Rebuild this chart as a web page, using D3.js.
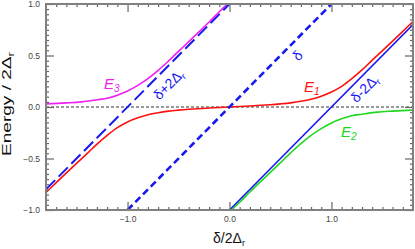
<!DOCTYPE html>
<html>
<head>
<meta charset="utf-8">
<script src="https://cdn.jsdelivr.net/npm/d3@7"></script>
<style>
  body { margin: 0; background: #fff; }
  svg { display: block; font-family: 'Liberation Sans', Arial, sans-serif; }
</style>
</head>
<body>
<svg id="chart"></svg>
<script>
// energy levels (x = delta / 2 Delta_r, y = energy / 2 Delta_r)
const e3Points = [
    [-1.8, 0.03], [-1.6, 0.04], [-1.45, 0.05], [-1.3, 0.07], [-1.2, 0.085],
    [-1.1, 0.115], [-1.0, 0.155], [-0.9, 0.21], [-0.8, 0.275], [-0.7, 0.355],
    [-0.6, 0.445], [-0.5, 0.54], [-0.4, 0.635], [-0.3, 0.73], [-0.2, 0.825],
    [-0.1, 0.925], [0.0, 1.02]
];
const e1Points = [
    [-1.8, -0.83], [-1.6, -0.64], [-1.4, -0.455], [-1.3, -0.36], [-1.2, -0.275],
    [-1.1, -0.2], [-1.0, -0.145], [-0.9, -0.105], [-0.8, -0.075], [-0.7, -0.055],
    [-0.6, -0.04], [-0.5, -0.03], [-0.4, -0.022], [-0.2, -0.01], [0.0, 0.0],
    [0.2, 0.01], [0.4, 0.022], [0.5, 0.03], [0.6, 0.04], [0.7, 0.055],
    [0.8, 0.075], [0.9, 0.105], [1.0, 0.145], [1.1, 0.2], [1.2, 0.275],
    [1.3, 0.36], [1.4, 0.455], [1.6, 0.64], [1.8, 0.83]
];
const e2Points = [
    [0.0, -1.02], [0.1, -0.925], [0.2, -0.825], [0.3, -0.73], [0.4, -0.635],
    [0.5, -0.54], [0.6, -0.445], [0.7, -0.355], [0.8, -0.275], [0.9, -0.21],
    [1.0, -0.155], [1.1, -0.115], [1.2, -0.085], [1.3, -0.07], [1.45, -0.05],
    [1.6, -0.04], [1.8, -0.03]
];
// bare levels
const deltaLine = [[-1, -1], [1, 1]];
const deltaPlusLine = [[-1.8, -0.8], [0, 1]];
const deltaMinusLine = [[0, -1], [1.8, 0.8]];
const zeroLine = [[-1.8, 0], [1.8, 0]];

const xMajor = [-1, 0, 1];
const xMinor = d3.range(-17, 18).map(i => i / 10).filter(v => !xMajor.includes(v));
const yMajor = [-1, -0.5, 0, 0.5, 1];
const yMinor = d3.range(-20, 21).map(i => i / 20).filter(v => !yMajor.includes(v));

const width = 415, height = 249;
const margin = { top: 4, right: 2, bottom: 39, left: 46 };
const plotW = width - margin.left - margin.right;
const plotH = height - margin.top - margin.bottom;

const svg = d3.select('#chart').attr('width', width).attr('height', height);
const xScale = d3.scaleLinear().domain([-1.8, 1.8]).range([0, plotW]);
const yScale = d3.scaleLinear().domain([-1, 1]).range([plotH, 0]);

const g = svg.append('g').attr('transform', `translate(${margin.left}, ${margin.top})`);
g.append('clipPath').attr('id', 'clip')
    .append('rect').attr('width', plotW).attr('height', plotH);

const plot = g.append('g').attr('clip-path', 'url(#clip)');
const line = d3.line().x(d => xScale(d[0])).y(d => yScale(d[1]));
const curve = d3.line().x(d => xScale(d[0])).y(d => yScale(d[1])).curve(d3.curveCatmullRom);

plot.append('path').datum(zeroLine).attr('d', line)
    .attr('fill', 'none').attr('stroke', '#000').attr('stroke-width', 0.8)
    .attr('stroke-dasharray', '3,2');

plot.append('path').datum(e3Points).attr('d', curve)
    .attr('fill', 'none').attr('stroke', '#f020f0').attr('stroke-width', 1.6);
plot.append('path').datum(e1Points).attr('d', curve)
    .attr('fill', 'none').attr('stroke', '#ff1010').attr('stroke-width', 1.6);
plot.append('path').datum(e2Points).attr('d', curve)
    .attr('fill', 'none').attr('stroke', '#20d820').attr('stroke-width', 1.6);

plot.append('path').datum(deltaLine).attr('d', line)
    .attr('fill', 'none').attr('stroke', '#1818f0').attr('stroke-width', 2.6)
    .attr('stroke-dasharray', '7,4');
plot.append('path').datum(deltaPlusLine).attr('d', line)
    .attr('fill', 'none').attr('stroke', '#1818f0').attr('stroke-width', 2)
    .attr('stroke-dasharray', '13,5');
plot.append('path').datum(deltaMinusLine).attr('d', line)
    .attr('fill', 'none').attr('stroke', '#1818f0').attr('stroke-width', 1.5);

// frame with inward ticks on all sides
const tickColor = '#666';
function styleAxis(sel) {
    sel.select('.domain').remove();
    sel.selectAll('.tick line').attr('stroke', tickColor).attr('stroke-width', 1.2);
    sel.selectAll('.tick text').attr('fill', '#444').attr('font-size', 8.5)
        .attr('font-family', "'Liberation Sans', Arial, sans-serif");
}
g.append('g').attr('transform', `translate(0, ${plotH})`)
    .call(d3.axisBottom(xScale).tickValues(xMajor).tickSizeInner(-8).tickPadding(6).tickFormat(d3.format('.1f')))
    .call(styleAxis);
g.append('g').attr('transform', `translate(0, ${plotH})`)
    .call(d3.axisBottom(xScale).tickValues(xMinor).tickSizeInner(-3).tickFormat(''))
    .call(styleAxis);
g.append('g')
    .call(d3.axisTop(xScale).tickValues(xMajor).tickSizeInner(-8).tickFormat(''))
    .call(styleAxis);
g.append('g')
    .call(d3.axisTop(xScale).tickValues(xMinor).tickSizeInner(-3).tickFormat(''))
    .call(styleAxis);
g.append('g')
    .call(d3.axisLeft(yScale).tickValues(yMajor).tickSizeInner(-8).tickPadding(6).tickFormat(d3.format('.1f')))
    .call(styleAxis);
g.append('g')
    .call(d3.axisLeft(yScale).tickValues(yMinor).tickSizeInner(-3).tickFormat(''))
    .call(styleAxis);
g.append('g').attr('transform', `translate(${plotW}, 0)`)
    .call(d3.axisRight(yScale).tickValues(yMajor).tickSizeInner(-8).tickFormat(''))
    .call(styleAxis);
g.append('g').attr('transform', `translate(${plotW}, 0)`)
    .call(d3.axisRight(yScale).tickValues(yMinor).tickSizeInner(-3).tickFormat(''))
    .call(styleAxis);
g.append('rect').attr('width', plotW).attr('height', plotH)
    .attr('fill', 'none').attr('stroke', '#808080').attr('stroke-width', 2);

// curve labels
function levelLabel(x, y, color, sub) {
    const t = g.append('text').attr('x', x - margin.left).attr('y', y - margin.top)
        .attr('fill', color).attr('font-size', 15).attr('font-style', 'italic');
    t.append('tspan').text('E');
    t.append('tspan').attr('dy', 3).attr('font-size', 10).text(sub);
}
levelLabel(104, 89, '#f020f0', '3');
levelLabel(304, 92, '#ff1010', '1');
levelLabel(341, 137, '#20d820', '2');

function lineLabel(cx, cy, parts) {
    const t = g.append('text')
        .attr('transform', `translate(${cx - margin.left}, ${cy - margin.top}) rotate(-45)`)
        .attr('text-anchor', 'middle').attr('fill', '#1818f0').attr('font-size', 14);
    parts.forEach(p => {
        const s = t.append('tspan').text(p.t);
        if (p.sub) s.attr('font-size', 9).attr('dy', 3);
    });
}
lineLabel(301, 59, [{ t: 'δ' }]);
lineLabel(172, 88, [{ t: 'δ+2Δ' }, { t: 'r', sub: true }]);
lineLabel(368, 92, [{ t: 'δ-2Δ' }, { t: 'r', sub: true }]);

// axis titles
const xTitle = svg.append('text').attr('x', 229).attr('y', 243)
    .attr('text-anchor', 'middle').attr('font-size', 14).attr('fill', '#111');
xTitle.append('tspan').text('δ/2Δ');
xTitle.append('tspan').attr('font-size', 9).attr('dy', 3).text('r');

const yTitle = svg.append('text')
    .attr('transform', 'translate(11, 104) rotate(-90)')
    .attr('text-anchor', 'middle').attr('font-size', 13).attr('fill', '#111')
    .attr('textLength', 104).attr('lengthAdjust', 'spacingAndGlyphs');
yTitle.append('tspan').text('Energy / 2Δ');
yTitle.append('tspan').attr('font-size', 9).attr('dy', 3).text('r');
</script>
</body>
</html>
